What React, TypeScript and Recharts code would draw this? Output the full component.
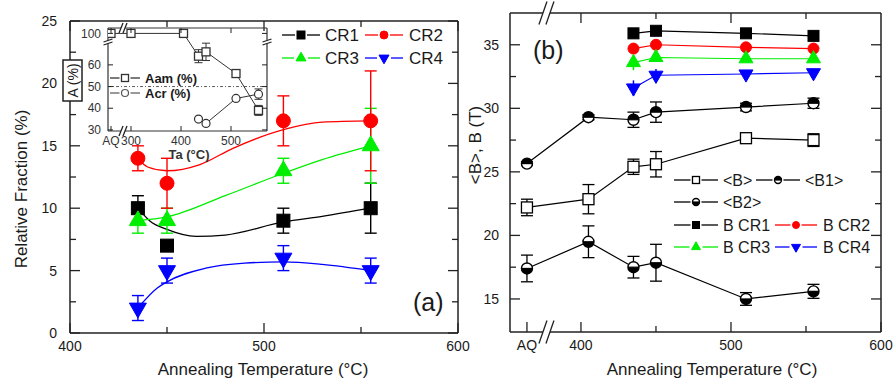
import React from 'react';
import { LineChart, Line, XAxis, YAxis, ErrorBar, ReferenceLine, ReferenceDot } from 'recharts';

const FONT = '"Liberation Sans", Arial, Helvetica, sans-serif';
const AX = '#222';
const TXT = '#1a1a1a';
const RED = '#ff0000';
const GREEN = '#00ee00';
const BLUE = '#0000ff';

// ---------------- Panel (a) ----------------
const namesA = ['CR1', 'CR2', 'CR3', 'CR4'];
const tempsA = [435, 450, 510, 555];
const cr1 = [10, 7, 9, 10];
const cr1Err = [1, 0, 1, 2];
const cr2 = [14, 12, 17, 17];
const cr2Err = [1, 2, 2, 4];
const cr3 = [9, 9, 13, 15];
const cr3Err = [1, 1, 1, 3];
const cr4 = [2, 5, 6, 5];
const cr4Err = [1, 1, 1, 1];

// fitted curves
const fit1T = [435, 441, 450, 465, 480, 510, 530, 555];
const fit1 = [10, 9.0, 8.3, 7.75, 7.85, 8.9, 9.35, 10];
const fit2T = [435, 440, 450, 467, 484, 510, 530, 555];
const fit2 = [14, 13.3, 13.0, 13.5, 14.8, 16.3, 16.9, 17];
const fit3T = [435, 450, 480, 510, 530, 555];
const fit3 = [9, 9.3, 11.0, 12.8, 13.9, 15];
const fit4T = [435, 445, 450, 470, 490, 510, 530, 555];
const fit4 = [2, 3.6, 4.1, 5.2, 5.6, 5.7, 5.5, 5];

const xTicksA = [400, 450, 500, 550, 600];
const xLabelsA = [400, 500, 600];
const yTicksA = [0, 2.5, 5, 7.5, 10, 12.5, 15, 17.5, 20, 22.5, 25];
const yLabelsA = [0, 5, 10, 15, 20, 25];

// ---------------- Inset ----------------
const INSET_AQ = 260;
const insetXTicks = [INSET_AQ, 300, 400, 500];
const insetXLabels = ['AQ', '300', '400', '500'];
const insetYTicks = [30, 40, 50, 60, 74.5];
const insetYLabels = ['30', '40', '50', '60', '100'];
const tempsAam = [INSET_AQ, 300, 405, 435, 450, 510, 555];
const aam = [100, 100, 100, 64, 66, 56, 39];
const aamErr = [0, 0, 0, 3, 4, 0, 2.3];
const tempsAcr = [435, 450, 510, 555];
const acr = [35, 33, 44.5, 46.5];
const acrErr = [0, 0, 0, 2.4];
const insetBreak = (v: number) => (v > 80 ? v - 25.5 : v);

// ---------------- Panel (b) ----------------
const AQ_B = 364;
const tempsB = [AQ_B, 405, 435, 450, 510, 555];
const bAvg = [22.2, 22.85, 25.4, 25.6, 27.65, 27.5];
const bAvgErr = [0.65, 1.15, 0.6, 1.0, 0.3, 0.5];
const b1 = [25.65, 29.3, 29.1, 29.7, 30.1, 30.4];
const b1Err = [0.15, 0.2, 0.6, 0.8, 0.3, 0.4];
const b2 = [17.4, 19.5, 17.5, 17.85, 15.0, 15.6];
const b2Err = [1.05, 1.25, 0.85, 1.45, 0.5, 0.55];
const tempsCR = [435, 450, 510, 555];
const bcr1 = [35.9, 36.1, 35.9, 35.7];
const bcr2 = [34.7, 35.0, 34.8, 34.7];
const bcr3 = [33.6, 34.0, 33.9, 33.9];
const bcr3Err = [0.6, 0, 0, 0];
const bcr4 = [31.6, 32.6, 32.7, 32.8];
const bcr4Err = [0.6, 0.5, 0.3, 0];
const namesB = ['<B>', '<B1>', '<B2>', 'B CR1', 'B CR2', 'B CR3', 'B CR4'];
const xTicksB = [AQ_B, 400, 450, 500, 550, 600];
const xLabelsB = ['AQ', '400', '500', '600'];
const xLabelValsB = [AQ_B, 400, 500, 600];
const yTicksB = [15, 17.5, 20, 22.5, 25, 27.5, 30, 32.5, 35];
const yLabelsB = [15, 20, 25, 30, 35];

const rows = (xs: number[], ys: number[], es?: number[], f?: (v: number) => number) =>
  xs.map((x, i) => ({ x, y: f ? f(ys[i]) : ys[i], e: es ? es[i] : 0 }));

type Shape = 'square' | 'circle' | 'up' | 'down' | 'osquare' | 'ocircle' | 'htop' | 'hbot';

function Mark({ shape, cx, cy, s, color }: { shape: Shape; cx: number; cy: number; s: number; color: string }) {
  if (cx == null || cy == null || isNaN(cx) || isNaN(cy)) return null;
  const h = s / 2;
  switch (shape) {
    case 'square':
      return <rect x={cx - h} y={cy - h} width={s} height={s} fill={color} stroke={color} strokeWidth={1} />;
    case 'osquare':
      return <rect x={cx - h} y={cy - h} width={s} height={s} fill="#fff" stroke={color} strokeWidth={1.3} />;
    case 'circle':
      return <circle cx={cx} cy={cy} r={h} fill={color} stroke={color} strokeWidth={1} />;
    case 'ocircle':
      return <circle cx={cx} cy={cy} r={h} fill="#fff" stroke={color} strokeWidth={1.2} />;
    case 'up': {
      const t = s * 0.58, b = s * 0.29;
      return <polygon points={`${cx},${cy - t} ${cx - h},${cy + b} ${cx + h},${cy + b}`} fill={color} stroke={color} strokeWidth={1} />;
    }
    case 'down': {
      const t = s * 0.58, b = s * 0.29;
      return <polygon points={`${cx},${cy + t} ${cx - h},${cy - b} ${cx + h},${cy - b}`} fill={color} stroke={color} strokeWidth={1} />;
    }
    case 'htop':
    case 'hbot': {
      const sweep = shape === 'htop' ? 1 : 0;
      return (
        <g>
          <circle cx={cx} cy={cy} r={h} fill="#fff" stroke={color} strokeWidth={1.4} />
          <path d={`M${cx - h},${cy} A${h},${h} 0 0 ${sweep} ${cx + h},${cy} Z`} fill={color} />
          <line x1={cx - h} x2={cx + h} y1={cy} y2={cy} stroke={color} strokeWidth={1.2} />
        </g>
      );
    }
  }
  return null;
}

const dotOf = (shape: Shape, s: number, color: string) => (p: any) => (
  <Mark key={`m${p.index}`} shape={shape} cx={p.cx} cy={p.cy} s={s} color={color} />
);

type Side = 'left' | 'right' | 'top' | 'bottom';
function tickFactory(
  side: Side,
  majors: number[],
  o: { labels?: string[]; fontSize?: number; major?: number; minor?: number; gap?: number; color?: string; sw?: number; show?: boolean }
) {
  const { labels, fontSize = 14, major = 10, minor = 6, gap = 8, color = TXT, sw = 1.3, show = true } = o;
  return (props: any) => {
    const { x, y, payload } = props;
    const v = Number(payload.value);
    const mi = majors.findIndex((m) => Math.abs(m - v) < 1e-6);
    const isMajor = mi >= 0;
    const L = isMajor ? major : minor;
    let x2 = x, y2 = y, tx = x, ty = y, anchor = 'middle', dy = '0.35em';
    if (side === 'left') { x2 = x + L; tx = x - gap; anchor = 'end'; }
    if (side === 'right') { x2 = x - L; tx = x + gap; anchor = 'start'; }
    if (side === 'bottom') { y2 = y - L; ty = y + gap; dy = '0.75em'; }
    if (side === 'top') { y2 = y + L; ty = y - gap; dy = '0'; }
    const text = labels ? labels[mi] : String(v);
    return (
      <g>
        <line x1={x} y1={y} x2={x2} y2={y2} stroke={AX} strokeWidth={sw} />
        {show && isMajor && (
          <text x={tx} y={ty} dy={dy} textAnchor={anchor} fontSize={fontSize} fill={color} fontFamily={FONT}>
            {text}
          </text>
        )}
      </g>
    );
  };
}

function BreakMark({ cx, cy, h, lean, sep, vertical }: { cx: number; cy: number; h: number; lean: number; sep: number; vertical?: boolean }) {
  if (cx == null || cy == null) return null;
  const a = -sep / 2, b = sep / 2;
  if (!vertical) {
    const pts = `${cx + a - lean / 2},${cy + h / 2} ${cx + a + lean / 2},${cy - h / 2} ${cx + b + lean / 2},${cy - h / 2} ${cx + b - lean / 2},${cy + h / 2}`;
    return (
      <g>
        <polygon points={pts} fill="#fff" stroke="none" />
        <line x1={cx + a - lean / 2} y1={cy + h / 2} x2={cx + a + lean / 2} y2={cy - h / 2} stroke={AX} strokeWidth={1.3} />
        <line x1={cx + b - lean / 2} y1={cy + h / 2} x2={cx + b + lean / 2} y2={cy - h / 2} stroke={AX} strokeWidth={1.3} />
      </g>
    );
  }
  const pts = `${cx - h / 2},${cy + a + lean / 2} ${cx + h / 2},${cy + a - lean / 2} ${cx + h / 2},${cy + b - lean / 2} ${cx - h / 2},${cy + b + lean / 2}`;
  return (
    <g>
      <polygon points={pts} fill="#fff" stroke="none" />
      <line x1={cx - h / 2} y1={cy + a + lean / 2} x2={cx + h / 2} y2={cy + a - lean / 2} stroke={AX} strokeWidth={1.1} />
      <line x1={cx - h / 2} y1={cy + b + lean / 2} x2={cx + h / 2} y2={cy + b - lean / 2} stroke={AX} strokeWidth={1.1} />
    </g>
  );
}

function LegendEntry({ x1, x2, y, tx, color, shape, s, label, fs, lineColor, lw, bold }: any) {
  const mx = (x1 + x2) / 2;
  const g = s / 2 + 2;
  return (
    <g>
      <line x1={x1} x2={mx - g} y1={y} y2={y} stroke={lineColor || color} strokeWidth={lw || 1.3} />
      <line x1={mx + g} x2={x2} y1={y} y2={y} stroke={lineColor || color} strokeWidth={lw || 1.3} />
      <Mark shape={shape} cx={mx} cy={y} s={s} color={color} />
      <text x={tx} y={y} dy="0.36em" fontSize={fs} fontFamily={FONT} fill={TXT} fontWeight={bold ? 'bold' : 'normal'}>
        {label}
      </text>
    </g>
  );
}

const axisProps = { tickSize: 0, tickMargin: 0, tickLine: false, interval: 0 as const, allowDataOverflow: true };

function PanelA() {
  const W = 475, H = 384;
  const al = { stroke: AX, strokeWidth: 1.5 };
  return (
    <LineChart width={W} height={H} margin={{ top: 20, right: 16, bottom: 50, left: 69 }}>
      <XAxis {...axisProps} dataKey="x" type="number" domain={[400, 600]} ticks={xTicksA} height={1} axisLine={al}
        tick={tickFactory('bottom', xLabelsA, { gap: 7 })} />
      <XAxis {...axisProps} xAxisId="top" orientation="top" dataKey="x" type="number" domain={[400, 600]} ticks={xTicksA}
        height={1} axisLine={al} tick={tickFactory('top', xLabelsA, { show: false })} />
      <YAxis {...axisProps} type="number" domain={[0, 25]} ticks={yTicksA} width={1} axisLine={al}
        tick={tickFactory('left', yLabelsA, { gap: 13 })} />
      <YAxis {...axisProps} yAxisId="right" orientation="right" type="number" domain={[0, 25]} ticks={yTicksA} width={1}
        axisLine={al} tick={tickFactory('right', yLabelsA, { show: false })} />

      <Line data={rows(fit1T, fit1)} dataKey="y" type="monotone" stroke="#000" strokeWidth={1.3} dot={false} activeDot={false} isAnimationActive={false} />
      <Line data={rows(fit2T, fit2)} dataKey="y" type="monotone" stroke={RED} strokeWidth={1.3} dot={false} activeDot={false} isAnimationActive={false} />
      <Line data={rows(fit3T, fit3)} dataKey="y" type="monotone" stroke={GREEN} strokeWidth={1.3} dot={false} activeDot={false} isAnimationActive={false} />
      <Line data={rows(fit4T, fit4)} dataKey="y" type="monotone" stroke={BLUE} strokeWidth={1.3} dot={false} activeDot={false} isAnimationActive={false} />

      <Line data={rows(tempsA, cr1, cr1Err)} dataKey="y" stroke="none" dot={dotOf('square', 13, '#000')} activeDot={false} isAnimationActive={false}>
        <ErrorBar dataKey="e" width={6} stroke="#000" strokeWidth={1.4} direction="y" />
      </Line>
      <Line data={rows(tempsA, cr3, cr3Err)} dataKey="y" stroke="none" dot={dotOf('up', 17, GREEN)} activeDot={false} isAnimationActive={false}>
        <ErrorBar dataKey="e" width={6} stroke={GREEN} strokeWidth={1.4} direction="y" />
      </Line>
      <Line data={rows(tempsA, cr2, cr2Err)} dataKey="y" stroke="none" dot={dotOf('circle', 14, RED)} activeDot={false} isAnimationActive={false}>
        <ErrorBar dataKey="e" width={6} stroke={RED} strokeWidth={1.4} direction="y" />
      </Line>
      <Line data={rows(tempsA, cr4, cr4Err)} dataKey="y" stroke="none" dot={dotOf('down', 17, BLUE)} activeDot={false} isAnimationActive={false}>
        <ErrorBar dataKey="e" width={6} stroke={BLUE} strokeWidth={1.4} direction="y" />
      </Line>

      <g>
        <LegendEntry x1={282} x2={320} y={35} tx={325} color="#000" shape="square" s={8} label={namesA[0]} fs={17} />
        <LegendEntry x1={365} x2={403} y={35} tx={409} color={RED} shape="circle" s={8} label={namesA[1]} fs={17} />
        <LegendEntry x1={282} x2={320} y={58} tx={325} color={GREEN} shape="up" s={10} label={namesA[2]} fs={17} />
        <LegendEntry x1={365} x2={403} y={58} tx={409} color={BLUE} shape="down" s={10} label={namesA[3]} fs={17} />
        <text x={413} y={311} fontSize={25} fontFamily={FONT} fill={TXT}>(a)</text>
        <text transform="translate(21,189) rotate(-90)" textAnchor="middle" dy="0.35em" fontSize={17} fontFamily={FONT} fill={TXT}>
          Relative Fraction (%)
        </text>
        <text x={263} y={375} textAnchor="middle" fontSize={17} fontFamily={FONT} fill={TXT}>Annealing Temperature (°C)</text>
      </g>
    </LineChart>
  );
}

function Inset() {
  const dom: [number, number] = [254, 572];
  const ydom: [number, number] = [29.5, 77];
  const al = { stroke: '#333', strokeWidth: 1.2 };
  return (
    <LineChart width={220} height={145} margin={{ top: 7, right: 7, bottom: 33, left: 52 }}>
      <XAxis {...axisProps} dataKey="x" type="number" domain={dom} ticks={insetXTicks} height={1} axisLine={al}
        tick={tickFactory('bottom', insetXTicks, { labels: insetXLabels, fontSize: 12, major: 5, gap: 5, color: '#333', sw: 1 })} />
      <XAxis {...axisProps} xAxisId="top" orientation="top" dataKey="x" type="number" domain={dom} ticks={insetXTicks}
        height={1} axisLine={al} tick={tickFactory('top', insetXTicks, { show: false, major: 5, sw: 1 })} />
      <YAxis {...axisProps} type="number" domain={ydom} ticks={insetYTicks} width={1} axisLine={al}
        tick={tickFactory('left', insetYTicks, { labels: insetYLabels, fontSize: 12, major: 5, gap: 7, color: '#333', sw: 1 })} />
      <YAxis {...axisProps} yAxisId="right" orientation="right" type="number" domain={ydom} ticks={insetYTicks} width={1}
        axisLine={al} tick={tickFactory('right', insetYTicks, { show: false, major: 5, sw: 1 })} />

      <ReferenceLine y={50} stroke="#333" strokeWidth={0.8} strokeDasharray="3 2 1 2" ifOverflow="visible" />

      <Line data={rows(tempsAam, aam, aamErr, insetBreak)} dataKey="y" stroke="#333" strokeWidth={1} dot={dotOf('osquare', 8, '#333')}
        activeDot={false} isAnimationActive={false}>
        <ErrorBar dataKey="e" width={4} stroke="#333" strokeWidth={1} direction="y" />
      </Line>
      <Line data={rows(tempsAcr, acr, acrErr)} dataKey="y" stroke="#333" strokeWidth={1} dot={dotOf('ocircle', 8, '#333')}
        activeDot={false} isAnimationActive={false}>
        <ErrorBar dataKey="e" width={4} stroke="#333" strokeWidth={1} direction="y" />
      </Line>

      <ReferenceDot x={284} y={ydom[0]} r={0} ifOverflow="visible" shape={(p: any) => <BreakMark cx={p.cx} cy={p.cy} h={10} lean={4} sep={4} />} />
      <ReferenceDot x={284} y={ydom[1]} r={0} ifOverflow="visible" shape={(p: any) => <BreakMark cx={p.cx} cy={p.cy} h={10} lean={4} sep={4} />} />
      <ReferenceDot x={dom[0]} y={70.5} r={0} ifOverflow="visible" shape={(p: any) => <BreakMark cx={p.cx} cy={p.cy} h={9} lean={3} sep={3} vertical />} />
      <ReferenceDot x={dom[1]} y={70.5} r={0} ifOverflow="visible" shape={(p: any) => <BreakMark cx={p.cx} cy={p.cy} h={9} lean={3} sep={3} vertical />} />

      <g>
        <LegendEntry x1={55} x2={85} y={58} tx={90} color="#333" shape="osquare" s={7} label="Aam (%)" fs={13} bold />
        <LegendEntry x1={55} x2={85} y={73} tx={90} color="#555" lineColor="#999" lw={2} shape="ocircle" s={7} label="Acr (%)" fs={13} bold />
        <rect x={8} y={40} width={19} height={41} fill="#fff" stroke="#222" strokeWidth={1.5} />
        <text transform="translate(18,60.5) rotate(-90)" textAnchor="middle" dy="0.35em" fontSize={14} fontFamily={FONT} fill={TXT}>A (%)</text>
        <text x={134} y={139} textAnchor="middle" fontSize={13} fontWeight="bold" fontFamily={FONT} fill="#333">Ta (°C)</text>
      </g>
    </LineChart>
  );
}

function PanelB() {
  const W = 433, H = 384;
  const dom: [number, number] = [352.7, 600];
  const ydom: [number, number] = [12.4, 37.5];
  const al = { stroke: AX, strokeWidth: 1.5 };
  return (
    <LineChart width={W} height={H} margin={{ top: 12, right: 11, bottom: 51, left: 49 }}>
      <XAxis {...axisProps} dataKey="x" type="number" domain={dom} ticks={xTicksB} height={1} axisLine={al}
        tick={tickFactory('bottom', xLabelValsB, { labels: xLabelsB, gap: 7 })} />
      <XAxis {...axisProps} xAxisId="top" orientation="top" dataKey="x" type="number" domain={dom} ticks={[400, 450, 500, 550]}
        height={1} axisLine={al} tick={tickFactory('top', [400, 500], { show: false })} />
      <YAxis {...axisProps} type="number" domain={ydom} ticks={yTicksB} width={1} axisLine={al}
        tick={tickFactory('left', yLabelsB, { gap: 11 })} />
      <YAxis {...axisProps} yAxisId="right" orientation="right" type="number" domain={ydom} ticks={yTicksB} width={1}
        axisLine={al} tick={tickFactory('right', yLabelsB, { show: false })} />

      <Line data={rows(tempsB, bAvg, bAvgErr)} dataKey="y" stroke="#000" strokeWidth={1.2} dot={dotOf('osquare', 11, '#000')}
        activeDot={false} isAnimationActive={false}>
        <ErrorBar dataKey="e" width={6} stroke="#000" strokeWidth={1.3} direction="y" />
      </Line>
      <Line data={rows(tempsB, b1, b1Err)} dataKey="y" stroke="#000" strokeWidth={1.2} dot={dotOf('htop', 11, '#000')}
        activeDot={false} isAnimationActive={false}>
        <ErrorBar dataKey="e" width={6} stroke="#000" strokeWidth={1.3} direction="y" />
      </Line>
      <Line data={rows(tempsB, b2, b2Err)} dataKey="y" stroke="#000" strokeWidth={1.2} dot={dotOf('hbot', 11, '#000')}
        activeDot={false} isAnimationActive={false}>
        <ErrorBar dataKey="e" width={6} stroke="#000" strokeWidth={1.3} direction="y" />
      </Line>
      <Line data={rows(tempsCR, bcr1)} dataKey="y" stroke="#000" strokeWidth={1.2} dot={dotOf('square', 11, '#000')}
        activeDot={false} isAnimationActive={false} />
      <Line data={rows(tempsCR, bcr2)} dataKey="y" stroke={RED} strokeWidth={1.2} dot={dotOf('circle', 11, RED)}
        activeDot={false} isAnimationActive={false} />
      <Line data={rows(tempsCR, bcr3, bcr3Err)} dataKey="y" stroke={GREEN} strokeWidth={1.2} dot={dotOf('up', 14, GREEN)}
        activeDot={false} isAnimationActive={false}>
        <ErrorBar dataKey="e" width={0} stroke={GREEN} strokeWidth={1.5} direction="y" />
      </Line>
      <Line data={rows(tempsCR, bcr4, bcr4Err)} dataKey="y" stroke={BLUE} strokeWidth={1.2} dot={dotOf('down', 14, BLUE)}
        activeDot={false} isAnimationActive={false}>
        <ErrorBar dataKey="e" width={0} stroke={BLUE} strokeWidth={1.5} direction="y" />
      </Line>

      <ReferenceDot x={377} y={ydom[0]} r={0} ifOverflow="visible" shape={(p: any) => <BreakMark cx={p.cx} cy={p.cy} h={23} lean={8} sep={7} />} />
      <ReferenceDot x={377} y={ydom[1]} r={0} ifOverflow="visible" shape={(p: any) => <BreakMark cx={p.cx} cy={p.cy} h={23} lean={8} sep={7} />} />

      <g>
        <LegendEntry x1={214} x2={258} y={180} tx={263} color="#000" shape="osquare" s={7} label={namesB[0]} fs={16} />
        <LegendEntry x1={296} x2={340} y={180} tx={345} color="#000" shape="htop" s={7} label={namesB[1]} fs={16} />
        <LegendEntry x1={214} x2={258} y={202} tx={263} color="#000" shape="hbot" s={7} label={namesB[2]} fs={16} />
        <LegendEntry x1={214} x2={258} y={225} tx={263} color="#000" shape="square" s={7} label={namesB[3]} fs={16} />
        <LegendEntry x1={315} x2={357} y={225} tx={363} color={RED} shape="circle" s={7} label={namesB[4]} fs={16} />
        <LegendEntry x1={214} x2={258} y={247} tx={263} color={GREEN} shape="up" s={9} label={namesB[5]} fs={16} />
        <LegendEntry x1={315} x2={357} y={247} tx={363} color={BLUE} shape="down" s={9} label={namesB[6]} fs={16} />
        <text x={73} y={59} fontSize={25} fontFamily={FONT} fill={TXT}>(b)</text>
        <text transform="translate(15,145) rotate(-90)" textAnchor="middle" dy="0.35em" fontSize={17} fontFamily={FONT} fill={TXT}>
          {'<B>, B (T)'}
        </text>
        <text x={252} y={375} textAnchor="middle" fontSize={17} fontFamily={FONT} fill={TXT}>Annealing Temperature (°C)</text>
      </g>
    </LineChart>
  );
}

export default function App() {
  return (
    <div style={{ position: 'absolute', left: 0, top: 0, width: 893, height: 384, background: '#fff', fontFamily: FONT }}>
      <div style={{ position: 'absolute', left: 0, top: 0 }}>
        <PanelA />
      </div>
      <div style={{ position: 'absolute', left: 460, top: 0 }}>
        <PanelB />
      </div>
      <div style={{ position: 'absolute', left: 55, top: 20 }}>
        <Inset />
      </div>
    </div>
  );
}
